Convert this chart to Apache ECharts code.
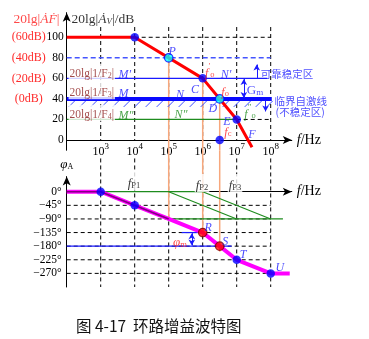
<!DOCTYPE html>
<html><head><meta charset="utf-8">
<script src="https://cdn.jsdelivr.net/npm/echarts@6/dist/echarts.min.js"></script>
<style>html,body{margin:0;padding:0;background:#fff}#c{width:369px;height:339px}</style>
</head><body><div id="c"></div>
<script>
// ---------- DATA (x values are log10(f / Hz)) ----------
const decadeTicks = [3, 4, 5, 6, 7, 8];
const magTicks = [100, 80, 60, 40, 20, 0];
const loopGainTickLabels = ['(60dB)', '(40dB)', '(20dB)', '(0dB)', '', ''];
const phaseTicks = [0, -45, -90, -135, -180, -225, -270];

// open-loop gain 20lg|Av| (dB)
const gainLogF = [2, 4, 6, 7, 7.45];
const gainDb = [100, 100, 60, 20, -7];
// feedback levels 20lg|1/F2|, 20lg|1/F3|, 20lg|1/F4|
const fbLevelsDb = [60, 40, 20];
const fbNames = ['2', '3', '4'];
// key points on gain plot
const blueDotLogF = [4, 6, 7, 6.5];
const blueDotDb = [100, 60, 20, 0];
const cyanDotLogF = [5, 6.5];
const cyanDotDb = [80, 40];
// crossings carried down to the phase plot
const crossLogF = [5, 6, 6.5];
const crossDb = [80, 60, 40];
const crossDeg = [-90, -135, -198];

// phase of loop gain (deg)
const phaseLogF = [2, 3, 4, 5, 6, 6.5, 7, 8, 8.56];
const phaseDeg = [0, 0, -45, -90, -135, -180, -225, -270, -270];
const phaseBlueLogF = [3, 4, 7, 8];
const phaseBlueDeg = [0, -45, -225, -270];
const phaseRedLogF = [6, 6.5];
const phaseRedDeg = [-135, -180];
// single-pole asymptotes
const pole1LogF = [2, 3, 5];  const pole1Deg = [0, 0, -90];
const pole2LogF = [5, 7];     const pole2Deg = [0, -90];
const pole3LogF = [6, 8];     const pole3Deg = [0, -90];
const zeroLineLogF = [3, 6];  const zeroLineDeg = [0, 0];
const ninetyLineLogF = [5, 8.36]; const ninetyLineDeg = [-90, -90];

// ---------- CHART ----------
const SERIF = '"Liberation Serif","DejaVu Serif",serif';
const CJK = '"Noto Sans CJK SC","Noto Sans CJK JP",sans-serif';
const BLUE = '#1a1aff', RED = '#ff1a1a', GREEN = '#1e8c1e', DRED = '#8b1c1c';
const zip = (xs, ys) => xs.map((x, i) => [x, ys[i]]);

function st(color, size, italic, kind) {
  const s = {color, fontSize: size, fontFamily: kind === 'c' ? CJK : SERIF, fontStyle: italic ? 'italic' : 'normal'};
  if (kind === 'sub') { s.lineHeight = size; s.verticalAlign = 'bottom'; }
  else if (kind === 'sup') { s.lineHeight = size; s.verticalAlign = 'top'; }
  else { s.lineHeight = size + 5; s.verticalAlign = 'bottom'; }
  return s;
}
const RICH = {
  bi: st(BLUE, 12, true), bn: st(BLUE, 13, false), bsub: st(BLUE, 9, false, 'sub'),
  gi: st(GREEN, 12, true), gsub: st(GREEN, 8.5, false, 'sub'), gsup: st(GREEN, 9, false, 'sup'),
  ri: st(RED, 12, true), rsub: st(RED, 8.5, false, 'sub'), rsup: st(RED, 9, false, 'sup'),
  dr: st(DRED, 11.5, false), drsub: st(DRED, 8, false, 'sub'),
  bc: st(BLUE, 10.5, false, 'c'),
  ki: st('#000', 13, true), ksub: st('#000', 8.5, false, 'sub'),
  tr: st(RED, 13.5, false), tri: st(RED, 13.5, true),
  tk: st('#000', 13.5, false), tki: st('#000', 13.5, true), tksub: st('#000', 9, true, 'sub'),
  pi: st(RED, 13, true)
};

function line(gi, data, color, width, type, z, extra) {
  return Object.assign({type: 'line', xAxisIndex: gi, yAxisIndex: gi, data, symbol: 'none', showSymbol: false,
    silent: true, animation: false, clip: false, z, lineStyle: {color, width, type: type || 'solid'}}, extra || {});
}
function dots(gi, data, color, size, border, z) {
  return {type: 'scatter', xAxisIndex: gi, yAxisIndex: gi, data, symbolSize: size, silent: true, animation: false, z: z || 10,
    itemStyle: {color, borderColor: border || color, borderWidth: border ? 1.2 : 0}};
}
function ann(gi, items) {
  return {type: 'scatter', xAxisIndex: gi, yAxisIndex: gi, symbolSize: 1, silent: true, animation: false, clip: false, z: 20,
    itemStyle: {color: 'rgba(0,0,0,0)'},
    data: items.map(a => ({value: [a[0], a[1]], label: Object.assign({show: true, position: a[3] || 'inside', distance: 0,
      formatter: a[2], rich: RICH}, a[4] || {})}))};
}
const WHITE_BG = {backgroundColor: '#fff', padding: [0, 1, 0, 1]};
const DASH = [4, 3];
const series = [];

// magnitude grid lines
decadeTicks.forEach(d => series.push(line(0, [[d, 110], [d, 0]], '#000', 1, DASH, 1)));
series.push(line(0, [[4, 100], [8, 100]], '#000', 1, DASH, 1));
series.push(line(0, [[7, 20], [8, 20]], '#000', 1, DASH, 1));
series.push(line(0, [[2, 80], [8, 80]], '#4455ff', 1.5, [5, 3], 2));
// orange crossings
crossLogF.forEach((x, i) => {
  series.push(line(0, [[x, crossDb[i]], [x, -10]], '#f7a77c', 1.5, 'solid', 2));
  series.push(line(1, [[x, 137], [x, crossDeg[i]]], '#f7a77c', 1.5, 'solid', 2));
});
// feedback lines
series.push(line(0, [[2, fbLevelsDb[0]], [7.9, fbLevelsDb[0]]], BLUE, 1.2, 'solid', 3, {
  markLine: {silent: true, animation: false, label: {show: false}, symbolSize: [5, 6],
    lineStyle: {color: BLUE, width: 1, type: 'solid'},
    data: [
      [{coord: [7.21, 59.3], symbol: 'arrow'}, {coord: [7.21, 40.9], symbol: 'arrow'}],
      [{coord: [7.59, 60.4], symbol: 'none'}, {coord: [7.59, 73.5], symbol: 'arrow'}],
      [{coord: [7.85, 38.6], symbol: 'none'}, {coord: [7.85, 27.8], symbol: 'arrow'}]
    ]}
}));
series.push(line(0, [[2, fbLevelsDb[1]], [8.03, fbLevelsDb[1]]], '#0a0aff', 4, 'solid', 3));
series.push(line(0, [[2, fbLevelsDb[2]], [7, fbLevelsDb[2]]], GREEN, 1.2, 'solid', 3));
// hatching under the critical line
series.push({type: 'custom', xAxisIndex: 0, yAxisIndex: 0, silent: true, animation: false, clip: false, z: 3,
  data: [[2, fbLevelsDb[1]]],
  renderItem: (params, api) => {
    const p0 = api.coord([2, fbLevelsDb[1]]), p1 = api.coord([8.03, fbLevelsDb[1]]);
    const children = [];
    for (let x = p0[0] + 2; x < p1[0] - 4; x += 11) {
      children.push({type: 'line', shape: {x1: x, y1: p0[1] + 8, x2: x + 6, y2: p0[1] + 2},
        style: {stroke: '#3a4cff', lineWidth: 1}});
    }
    return {type: 'group', children};
  }});
// gain curve
series.push(line(0, zip(gainLogF, gainDb), '#ff0000', 3, 'solid', 5));
series.push(dots(0, zip(blueDotLogF, blueDotDb), '#0000ff', 8.5));
series.push(dots(0, zip(cyanDotLogF, cyanDotDb), '#00ffff', 8.5, '#0000ff'));

// phase grid lines
decadeTicks.forEach(d => series.push(line(1, [[d, 110], [d, -315]], '#000', 1, DASH, 1)));
phaseTicks.slice(1).forEach(t => series.push(line(1, [[2, t], [8, t]], '#000', 1, DASH, 1)));
series.push(line(1, [[2, -180], [6.85, -180]], BLUE, 1.2, 'solid', 3));
series.push(line(1, [[5.38, -135], [6, -135]], BLUE, 1.2, 'solid', 3, {
  markLine: {silent: true, animation: false, label: {show: false}, symbolSize: [5, 6],
    lineStyle: {color: BLUE, width: 1, type: 'solid'},
    data: [[{coord: [5.68, -137], symbol: 'arrow'}, {coord: [5.68, -178], symbol: 'arrow'}]]}
}));
// asymptotes
series.push(line(1, zip(zeroLineLogF, zeroLineDeg), GREEN, 1.2, 'solid', 3));
series.push(line(1, zip(pole2LogF, pole2Deg), GREEN, 1.2, 'solid', 3));
series.push(line(1, zip(pole3LogF, pole3Deg), GREEN, 1.2, 'solid', 3));
series.push(line(1, zip(ninetyLineLogF, ninetyLineDeg), GREEN, 1.2, 'solid', 3));
// phase curve
series.push(line(1, zip(phaseLogF, phaseDeg), '#ff00ff', 4, 'solid', 5));
series.push(line(1, zip(pole1LogF, pole1Deg), '#800080', 1.5, 'solid', 6));
series.push(dots(1, zip(phaseBlueLogF, phaseBlueDeg), '#0000ff', 8.5));
series.push(dots(1, zip(phaseRedLogF, phaseRedDeg), '#ff0000', 8.5, '#7a0000'));

// annotations
series.push(ann(0, [
  [0.42, 119.8, '{tr|20lg|}{tri|ȦḞ}{tr||}', 'right'],
  [2.13, 119.8, '{tk|20lg|}{tki|Ȧ}{tksub|V}{tk||/dB}', 'right'],
  [2.04, 66.2, '{dr|20lg|1/F}{drsub|' + fbNames[0] + '}{dr||}', 'right', WHITE_BG],
  [2.04, 47.7, '{dr|20lg|1/F}{drsub|' + fbNames[1] + '}{dr||}', 'right', WHITE_BG],
  [2.04, 26.3, '{dr|20lg|1/F}{drsub|' + fbNames[2] + '}{dr||}', 'right', WHITE_BG],
  [3.51, 66.2, '{bi|M′}', 'right'],
  [3.51, 47.7, '{bi|M}', 'right'],
  [3.51, 26.3, '{gi|M″}', 'right'],
  [5.10, 88.6, '{bi|P}'],
  [5.77, 51.6, '{bi|C}'],
  [6.21, 67.2, '{ri|f}{rsup|′}{rsub|o}'],
  [6.69, 66.2, '{bi|N′}'],
  [5.33, 46.7, '{bi|N}'],
  [5.36, 27.3, '{gi|N″}'],
  [6.66, 48.7, '{ri|f}{rsub|o}'],
  [6.30, 33.1, '{bi|D}'],
  [7.39, 27.3, '{gi|f}{gsup|″}{gsub|o}'],
  [6.71, 20.4, '{bi|E}'],
  [6.74, 9.7, '{ri|f}{rsub|c}'],
  [7.45, 7.8, '{bi|F}'],
  [7.54, 50.6, '{bn|G}{bsub|m}'],
  [7.69, 66.2, '{bc|可靠稳定区}', 'right'],
  [8.10, 39.9, '{bc|临界自激线}', 'right'],
  [8.13, 29.6, '{bc|(不稳定区)}', 'right']
]));
series.push(ann(1, [
  [3.98, 35.4, '{ki|f}{ksub|P1}', 'inside', WHITE_BG],
  [5.98, 28.8, '{ki|f}{ksub|P2}', 'inside', WHITE_BG],
  [6.95, 28.8, '{ki|f}{ksub|P3}', 'inside', WHITE_BG],
  [6.16, -110, '{bi|R}'],
  [6.66, -156, '{bi|S}'],
  [7.19, -199, '{bi|T}'],
  [8.27, -245, '{bi|U}'],
  [5.33, -160, '{pi|φ}{rsub|m}']
]));

const axisLineStyle = {show: true, onZero: true, symbol: ['none', 'arrow'], symbolSize: [6, 9], lineStyle: {color: '#000', width: 1}};
const fName = {name: '{i|f}{n|/Hz}', nameLocation: 'end', nameGap: 5,
  nameTextStyle: {rich: {i: {fontFamily: SERIF, fontStyle: 'italic', fontSize: 14, color: '#000'}, n: {fontFamily: SERIF, fontSize: 14, color: '#000'}}}};
const PX_DEC = 34;
const option = {
  backgroundColor: '#fff',
  animation: false,
  title: {text: '图 4-17  环路增益波特图', left: 71, top: 313,
    textStyle: {fontFamily: CJK, fontSize: 15.5, fontWeight: 'normal', color: '#111'}},
  grid: [
    {left: 66.7, top: 12.65, width: 6.62 * PX_DEC, height: 137.6, outerBoundsMode: 'none'},
    {left: 66.7, top: 176.6, width: 6.62 * PX_DEC, height: 110.4, outerBoundsMode: 'none'}
  ],
  xAxis: [
    Object.assign({type: 'value', gridIndex: 0, min: 2, max: 8.62, interval: 1, axisLine: axisLineStyle,
      axisTick: {show: false}, splitLine: {show: false},
      axisLabel: {margin: -8, formatter: v => decadeTicks.includes(v) ? '{b|10}{s|' + v + '}' : '',
        rich: {b: {fontFamily: SERIF, fontSize: 12, color: '#000', lineHeight: 16, verticalAlign: 'bottom'},
               s: {fontFamily: SERIF, fontSize: 9, color: '#000', lineHeight: 9, verticalAlign: 'top'}}}}, fName),
    Object.assign({type: 'value', gridIndex: 1, min: 2, max: 8.62, interval: 1, axisLine: axisLineStyle,
      axisTick: {show: false}, splitLine: {show: false}, axisLabel: {show: false}}, fName)
  ],
  yAxis: [
    {type: 'value', gridIndex: 0, min: -10, max: 124, interval: 10,
      axisLine: {show: true, onZero: false, symbol: ['none', 'arrow'], symbolSize: [6, 9], lineStyle: {color: '#000', width: 1}},
      axisTick: {show: false}, splitLine: {show: false},
      axisLabel: {margin: 3, formatter: v => {
        const i = magTicks.indexOf(v); if (i < 0) return '';
        const alt = loopGainTickLabels[i];
        return (alt ? '{r|' + alt + '}' : '') + '{' + (v === 40 ? 'n2' : 'n') + '|' + v + '}';
      }, rich: {
        r: {fontFamily: SERIF, fontSize: 12, color: '#ff2a2a'},
        n: {fontFamily: SERIF, fontSize: 11.5, color: '#000', width: 18, align: 'right'},
        n2: {fontFamily: SERIF, fontSize: 11.5, color: '#000', width: 21, align: 'right'}}}},
    {type: 'value', gridIndex: 1, min: -315, max: 50, interval: 45,
      axisLine: {show: true, onZero: false, symbol: ['none', 'arrow'], symbolSize: [6, 9], lineStyle: {color: '#000', width: 1}},
      axisTick: {show: false}, splitLine: {show: false},
      name: '{p|φ}{s|A}', nameLocation: 'end', nameGap: 6,
      nameTextStyle: {align: 'center', rich: {p: {fontFamily: SERIF, fontStyle: 'italic', fontSize: 13, color: '#000', lineHeight: 16, verticalAlign: 'bottom'},
        s: {fontFamily: SERIF, fontSize: 8, color: '#000', lineHeight: 8, verticalAlign: 'bottom'}}},
      axisLabel: {margin: 5, fontFamily: SERIF, fontSize: 11.5, color: '#000',
        formatter: v => phaseTicks.includes(v) ? (v === 0 ? '0°' : '−' + (-v) + '°') : ''}}
  ],
  series
};
const chart = echarts.init(document.getElementById('c'), null, {renderer: 'canvas'});
chart.setOption(option);
</script></body></html>
